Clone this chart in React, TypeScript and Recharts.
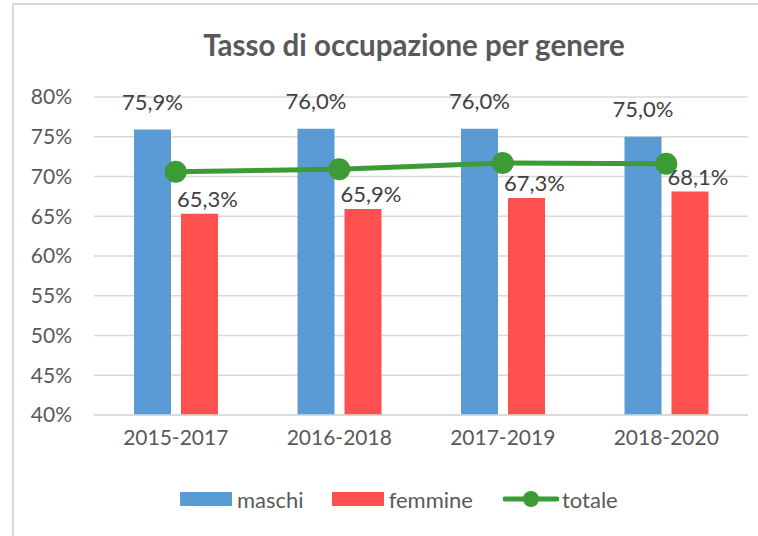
import React from "react";
import {
  ComposedChart,
  Bar,
  Line,
  XAxis,
  YAxis,
  CartesianGrid,
  LabelList,
} from "recharts";

const periods = ["2015-2017", "2016-2018", "2017-2019", "2018-2020"];
const maschi = [75.9, 76.0, 76.0, 75.0];
const femmine = [65.3, 65.9, 67.3, 68.1];
const totale = [70.6, 70.9, 71.7, 71.6];
const yTicks = [40, 45, 50, 55, 60, 65, 70, 75, 80];

const data = periods.map((p, i) => ({
  name: p,
  maschi: maschi[i],
  femmine: femmine[i],
  totale: totale[i],
}));

const BLUE = "#5B9BD5";
const RED = "#FF5050";
const GREEN = "#3D9B35";
const TEXT = "#595959";
const FONT = "Lato, 'Open Sans', sans-serif";

const fmt = (v: number) => v.toFixed(1).replace(".", ",") + "%";

const makeLabel =
  (offset: number, dx: number) =>
  (props: any) => {
    const { x, y, width, value } = props;
    return (
      <text
        x={Number(x) + Number(width) / 2 + dx}
        y={Number(y) - offset}
        textAnchor="middle"
        fill="#404040"
        fontSize={22}
        fontFamily={FONT}
      >
        {fmt(Number(value))}
      </text>
    );
  };

const App: React.FC = () => {
  return (
    <div
      style={{
        position: "absolute",
        left: 0,
        top: 0,
        width: 758,
        height: 536,
        background: "#fff",
        overflow: "hidden",
        fontFamily: FONT,
      }}
    >
      <div
        style={{
          position: "absolute",
          left: 12,
          top: 3,
          width: 800,
          height: 600,
          border: "2px solid #D9D9D9",
        }}
      />
      <div
        style={{
          position: "absolute",
          left: 0,
          width: 828,
          top: 27,
          textAlign: "center",
          fontSize: 29.5,
          fontWeight: 700,
          color: TEXT,
        }}
      >
        Tasso di occupazione per genere
      </div>
      <div style={{ position: "absolute", left: 0, top: 0 }}>
        <ComposedChart
          width={758}
          height={536}
          data={data}
          margin={{ top: 97, right: 10, bottom: 91, left: 34 }}
          barGap={10}
        >
          <CartesianGrid vertical={false} stroke="#D9D9D9" strokeWidth={1.5} />
          <XAxis
            dataKey="name"
            height={30}
            axisLine={{ stroke: "#D9D9D9", strokeWidth: 1.5 }}
            tickLine={false}
            tickSize={0}
            tickMargin={15}
            tick={{ fill: TEXT, fontSize: 21, fontFamily: FONT }}
          />
          <YAxis
            width={60}
            domain={[40, 80]}
            ticks={yTicks}
            allowDataOverflow
            axisLine={false}
            tickLine={false}
            tickSize={0}
            tickMargin={22}
            tickFormatter={(v: number) => `${v}%`}
            tick={{ fill: TEXT, fontSize: 21, fontFamily: FONT }}
          />
          <Bar dataKey="maschi" fill={BLUE} barSize={37} isAnimationActive={false}>
            <LabelList dataKey="maschi" content={makeLabel(20, 0)} />
          </Bar>
          <Bar dataKey="femmine" fill={RED} barSize={37} isAnimationActive={false}>
            <LabelList dataKey="femmine" content={makeLabel(7, 8)} />
          </Bar>
          <Line
            dataKey="totale"
            stroke={GREEN}
            strokeWidth={5}
            dot={{ r: 11, fill: GREEN, stroke: GREEN, strokeWidth: 0 }}
            isAnimationActive={false}
          />
        </ComposedChart>
      </div>
      <div
        style={{
          position: "absolute",
          left: 180,
          top: 485,
          display: "flex",
          alignItems: "center",
          fontSize: 22,
          color: TEXT,
          height: 28,
        }}
      >
        <span style={{ width: 52, height: 14, background: BLUE, display: "inline-block" }} />
        <span style={{ marginLeft: 5, marginRight: 28 }}>maschi</span>
        <span style={{ width: 52, height: 14, background: RED, display: "inline-block" }} />
        <span style={{ marginLeft: 5, marginRight: 30 }}>femmine</span>
        <svg width={56} height={20}>
          <line x1={2} y1={10} x2={54} y2={10} stroke={GREEN} strokeWidth={5} strokeLinecap="round" />
          <circle cx={28} cy={10} r={8} fill={GREEN} />
        </svg>
        <span style={{ marginLeft: 3 }}>totale</span>
      </div>
    </div>
  );
};

export default App;
